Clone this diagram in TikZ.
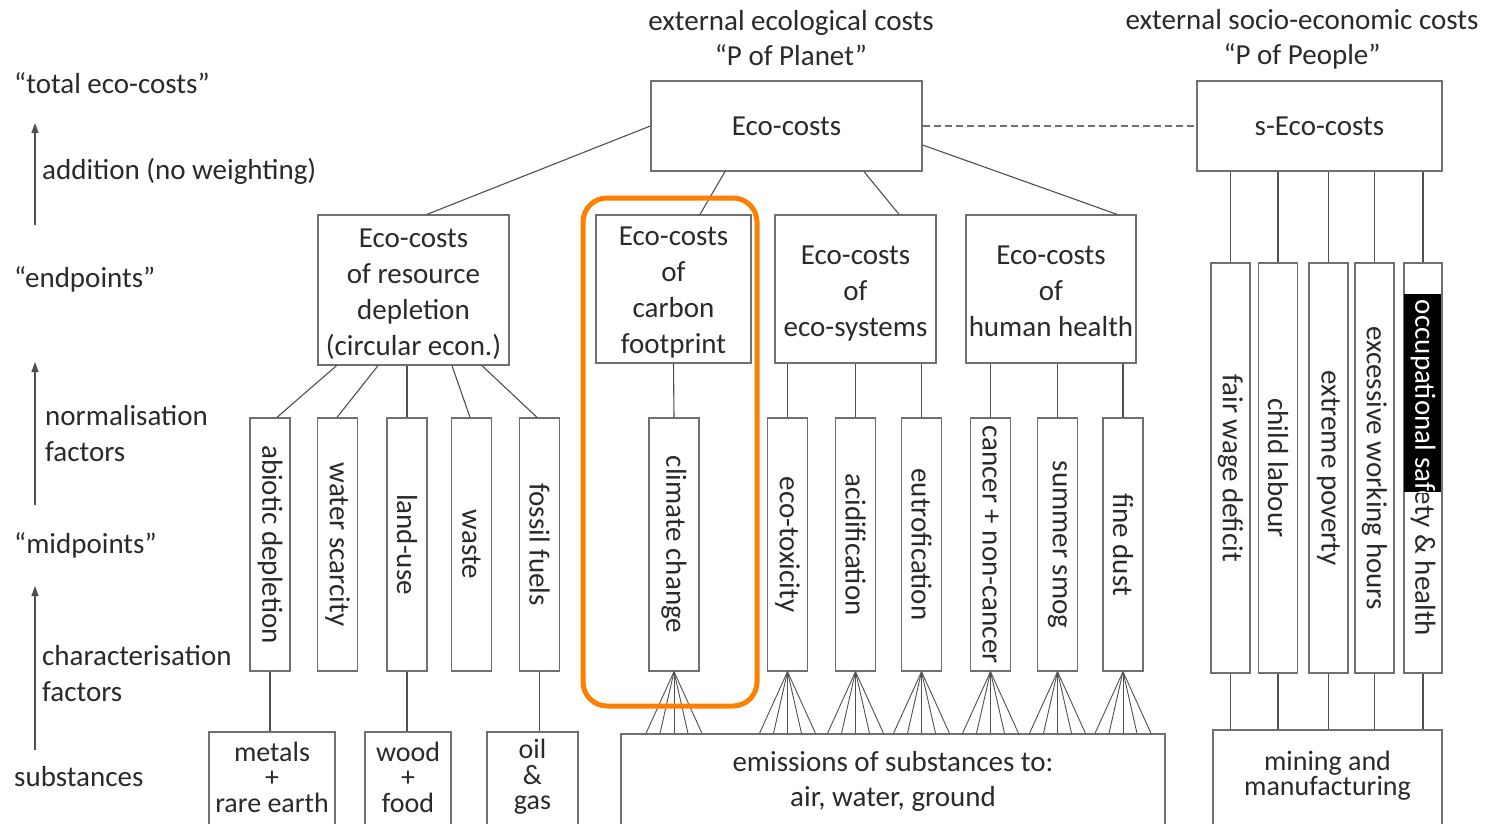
\documentclass[tikz,border=0pt]{standalone}
\usepackage{fontspec}
\setmainfont{Carlito}
\usepackage{graphicx}
\usetikzlibrary{calc,arrows.meta}
\definecolor{tx}{HTML}{2A2A2A}
\definecolor{ln}{HTML}{505050}
\definecolor{bx}{HTML}{707070}
\definecolor{orng}{HTML}{FF8000}
\begin{document}
\begin{tikzpicture}[x=1pt,y=-1pt,
  every node/.style={font=\fontsize{29}{36}\selectfont, text=tx, inner sep=0pt},
  box/.style={draw=bx, line width=1.3pt, align=center},
  vbox/.style={box, minimum width=#1},
  mid/.style={vbox=40, minimum height=253},
  soc/.style={vbox=39, minimum height=410},
  lbl/.style={anchor=west, align=left},
  inner/.style={align=center},
  conn/.style={draw=ln, line width=1.1pt},
  up/.style={conn, -{Triangle[width=7pt,length=10pt]}}]
\clip (0,0) rectangle (1486,823);
\fill[white] (0,0) rectangle (1486,823);

% left labels
\node[lbl] (l1) at (14,83) {“total eco-costs”};
\node[lbl] (l2) at (42,171) {addition (no weighting)};
\node[lbl] (l3) at (14,279) {“endpoints”};
\node[lbl] (l4) at (45,434) {normalisation\\factors};
\node[lbl] (l5) at (14,545) {“midpoints”};
\node[lbl] (l6) at (42,674) {characterisation\\factors};
\node[lbl] (l7) at (14,777) {substances};
\coordinate (a1s) at (35,225); \coordinate (a1e) at (35,123);
\coordinate (a2s) at (35,505); \coordinate (a2e) at (35,362);
\coordinate (a3s) at (35,750); \coordinate (a3e) at (35,586);
\draw[up] (a1s) -- (a1e);
\draw[up] (a2s) -- (a2e);
\draw[up] (a3s) -- (a3e);

% top labels
\node[align=center,font=\fontsize{29}{35}\selectfont] (t1) at (791,38) {external ecological costs\\“P of Planet”};
\node[align=center,font=\fontsize{29}{35}\selectfont] (t2) at (1302,39) {external socio-economic costs\\“P of People”};

% top boxes
\node[box, minimum width=271, minimum height=90] (ec) at (786.5,126) {Eco-costs};
\node[box, minimum width=245, minimum height=90] (se) at (1319.5,126) {s-Eco-costs};
\draw[conn, dash pattern=on 7pt off 4pt, draw=bx] (ec.east) -- (se.west);

% endpoint boxes
\node[box, minimum width=191, minimum height=150] (rd) at (413.5,290) {};
\node[inner] (rdt) at ($(rd.center)+(0,4)$) {Eco-costs\\of resource\\depletion\\(circular econ.)};
\node[box, minimum width=155, minimum height=148] (cf) at (673.5,289) {};
\node[inner] (cft) at ($(cf.center)+(0,4)$) {Eco-costs\\of\\carbon\\footprint};
\node[box, minimum width=161, minimum height=148] (es) at (855.5,289) {};
\node[inner] (est) at ($(es.center)+(0,4.5)$) {Eco-costs\\of\\eco-systems};
\node[box, minimum width=170, minimum height=148] (hh) at (1051,289) {};
\node[inner] (hht) at ($(hh.center)+(0,2.5)$) {Eco-costs\\of\\human health};

\draw[conn] (ec.west) -- ($(rd.north)+(13.5,0)$);
\draw[conn] ($(ec.south)+(-61.5,0)$) -- ($(cf.north)+(26.5,0)$);
\draw[conn] ($(ec.south)+(77.5,0)$) -- ($(es.north)+(43.5,0)$);
\draw[conn] ($(ec.east)+(0,19)$) -- ($(hh.north)+(66,0)$);

% midpoint boxes
\node[mid] (ab) at (270,544.5) {\rotatebox{-90}{abiotic depletion}};
\node[mid] (ws) at (337.5,544.5) {\rotatebox{-90}{water scarcity}};
\node[mid] (lu) at (407,544.5) {\rotatebox{-90}{land-use}};
\node[mid] (wa) at (471.5,544.5) {\rotatebox{-90}{waste}};
\node[mid] (ff) at (539.5,544.5) {\rotatebox{-90}{fossil fuels}};
\node[vbox=50, minimum height=253] (cc) at (674,544.5) {\rotatebox{-90}{climate change}};
\node[mid] (et) at (787.5,544.5) {\rotatebox{-90}{eco-toxicity}};
\node[mid] (ac) at (855.5,544.5) {\rotatebox{-90}{acidification}};
\node[mid] (eu) at (921.5,544.5) {\rotatebox{-90}{eutrofication}};
\node[mid] (cn) at (990.5,544.5) {\rotatebox{-90}{cancer + non-cancer}};
\node[mid] (ss) at (1057.5,544.5) {\rotatebox{-90}{summer smog}};
\node[mid] (fd) at (1123,544.5) {\rotatebox{-90}{fine dust}};

\draw[conn] ($(rd.south)+(-77,0)$) -- ($(ab.north)+(7,0)$);
\draw[conn] ($(rd.south)+(-35.5,0)$) -- ($(ws.north)+(-0.5,0)$);
\draw[conn] (lu.north |- rd.south) -- (lu.north);
\draw[conn] ($(rd.south)+(38.5,0)$) -- ($(wa.north)+(-1.5,0)$);
\draw[conn] ($(rd.south)+(68.5,0)$) -- ($(ff.north)+(-2.5,0)$);
\draw[conn] (cf.south) -- (cc.north);
\draw[conn] (et.north |- es.south) -- (et.north);
\draw[conn] (ac.north |- es.south) -- (ac.north);
\draw[conn] (eu.north |- es.south) -- (eu.north);
\draw[conn] (cn.north |- hh.south) -- (cn.north);
\draw[conn] (ss.north |- hh.south) -- (ss.north);
\draw[conn] (fd.north |- hh.south) -- (fd.north);

% social boxes
\node[soc] (fw) at (1230.5,468) {\rotatebox{-90}{fair wage deficit}};
\node[soc] (cl) at (1278,468) {\rotatebox{-90}{child labour}};
\node[soc] (ep) at (1328.5,468) {\rotatebox{-90}{extreme poverty}};
\node[soc] (ew) at (1374.5,468) {\rotatebox{-90}{excessive working hours}};
\node[vbox=38, minimum height=410] (oh) at (1423,468) {\rotatebox{-90}{occupational safety \& health}};
\begin{scope}
  \clip (1404,294) rectangle (1441,492);
  \fill[black] (1404,294) rectangle (1441,492);
  \node[text=white] (ohw) at (oh.center) {\rotatebox{-90}{occupational safety \& health}};
\end{scope}
\foreach \n in {fw,cl,ep,ew,oh}{
  \draw[conn] (\n.north |- se.south) -- (\n.north);
}

% substance boxes
\node[box, minimum width=126, minimum height=95] (mt) at (272,779.5) {};
\node[inner, font=\fontsize{28}{25.5}\selectfont] (mtt) at ($(mt.center)+(0,-2.5)$) {metals\\+\\rare earth};
\node[box, minimum width=86, minimum height=95] (wf) at (408,779.5) {};
\node[inner, font=\fontsize{28}{25.5}\selectfont] (wft) at ($(wf.center)+(0,-2.5)$) {wood\\+\\food};
\node[box, minimum width=91, minimum height=95] (oilg) at (532.5,779.5) {};
\node[inner, font=\fontsize{28}{25.5}\selectfont] (oilt) at ($(oilg.center)+(0,-2.5)$) {oil\\\&\\gas};
\node[box, minimum width=544, minimum height=95, font=\fontsize{29}{35}\selectfont] (em) at (893,781.5) {emissions of substances to:\\air, water, ground};
\node[box, minimum width=229, minimum height=97] (mm) at (1327.5,778.5) {};
\node[inner, font=\fontsize{28}{25.5}\selectfont] (mmt) at ($(mm.center)+(0,-3)$) {mining and\\manufacturing};

\draw[conn] (ab.south) -- (ab.south |- mt.north);
\draw[conn] (lu.south) -- (lu.south |- wf.north);
\draw[conn] (ff.south) -- (ff.south |- oilg.north);
\foreach \n in {cc,et,ac,eu,cn,ss,fd}{
  \foreach \d in {-28,-14,0,14,28}{
    \draw[conn, line width=0.9pt] (\n.south) -- ($(\n.south |- em.north)+(\d,0)$);
  }
}
\foreach \n in {fw,cl,ep,ew,oh}{
  \draw[conn] (\n.south) -- (\n.south |- mm.north);
}

% highlight
\draw[orng, line width=5pt, rounded corners=24pt] (583,198) rectangle (757,706);
\end{tikzpicture}
\end{document}
